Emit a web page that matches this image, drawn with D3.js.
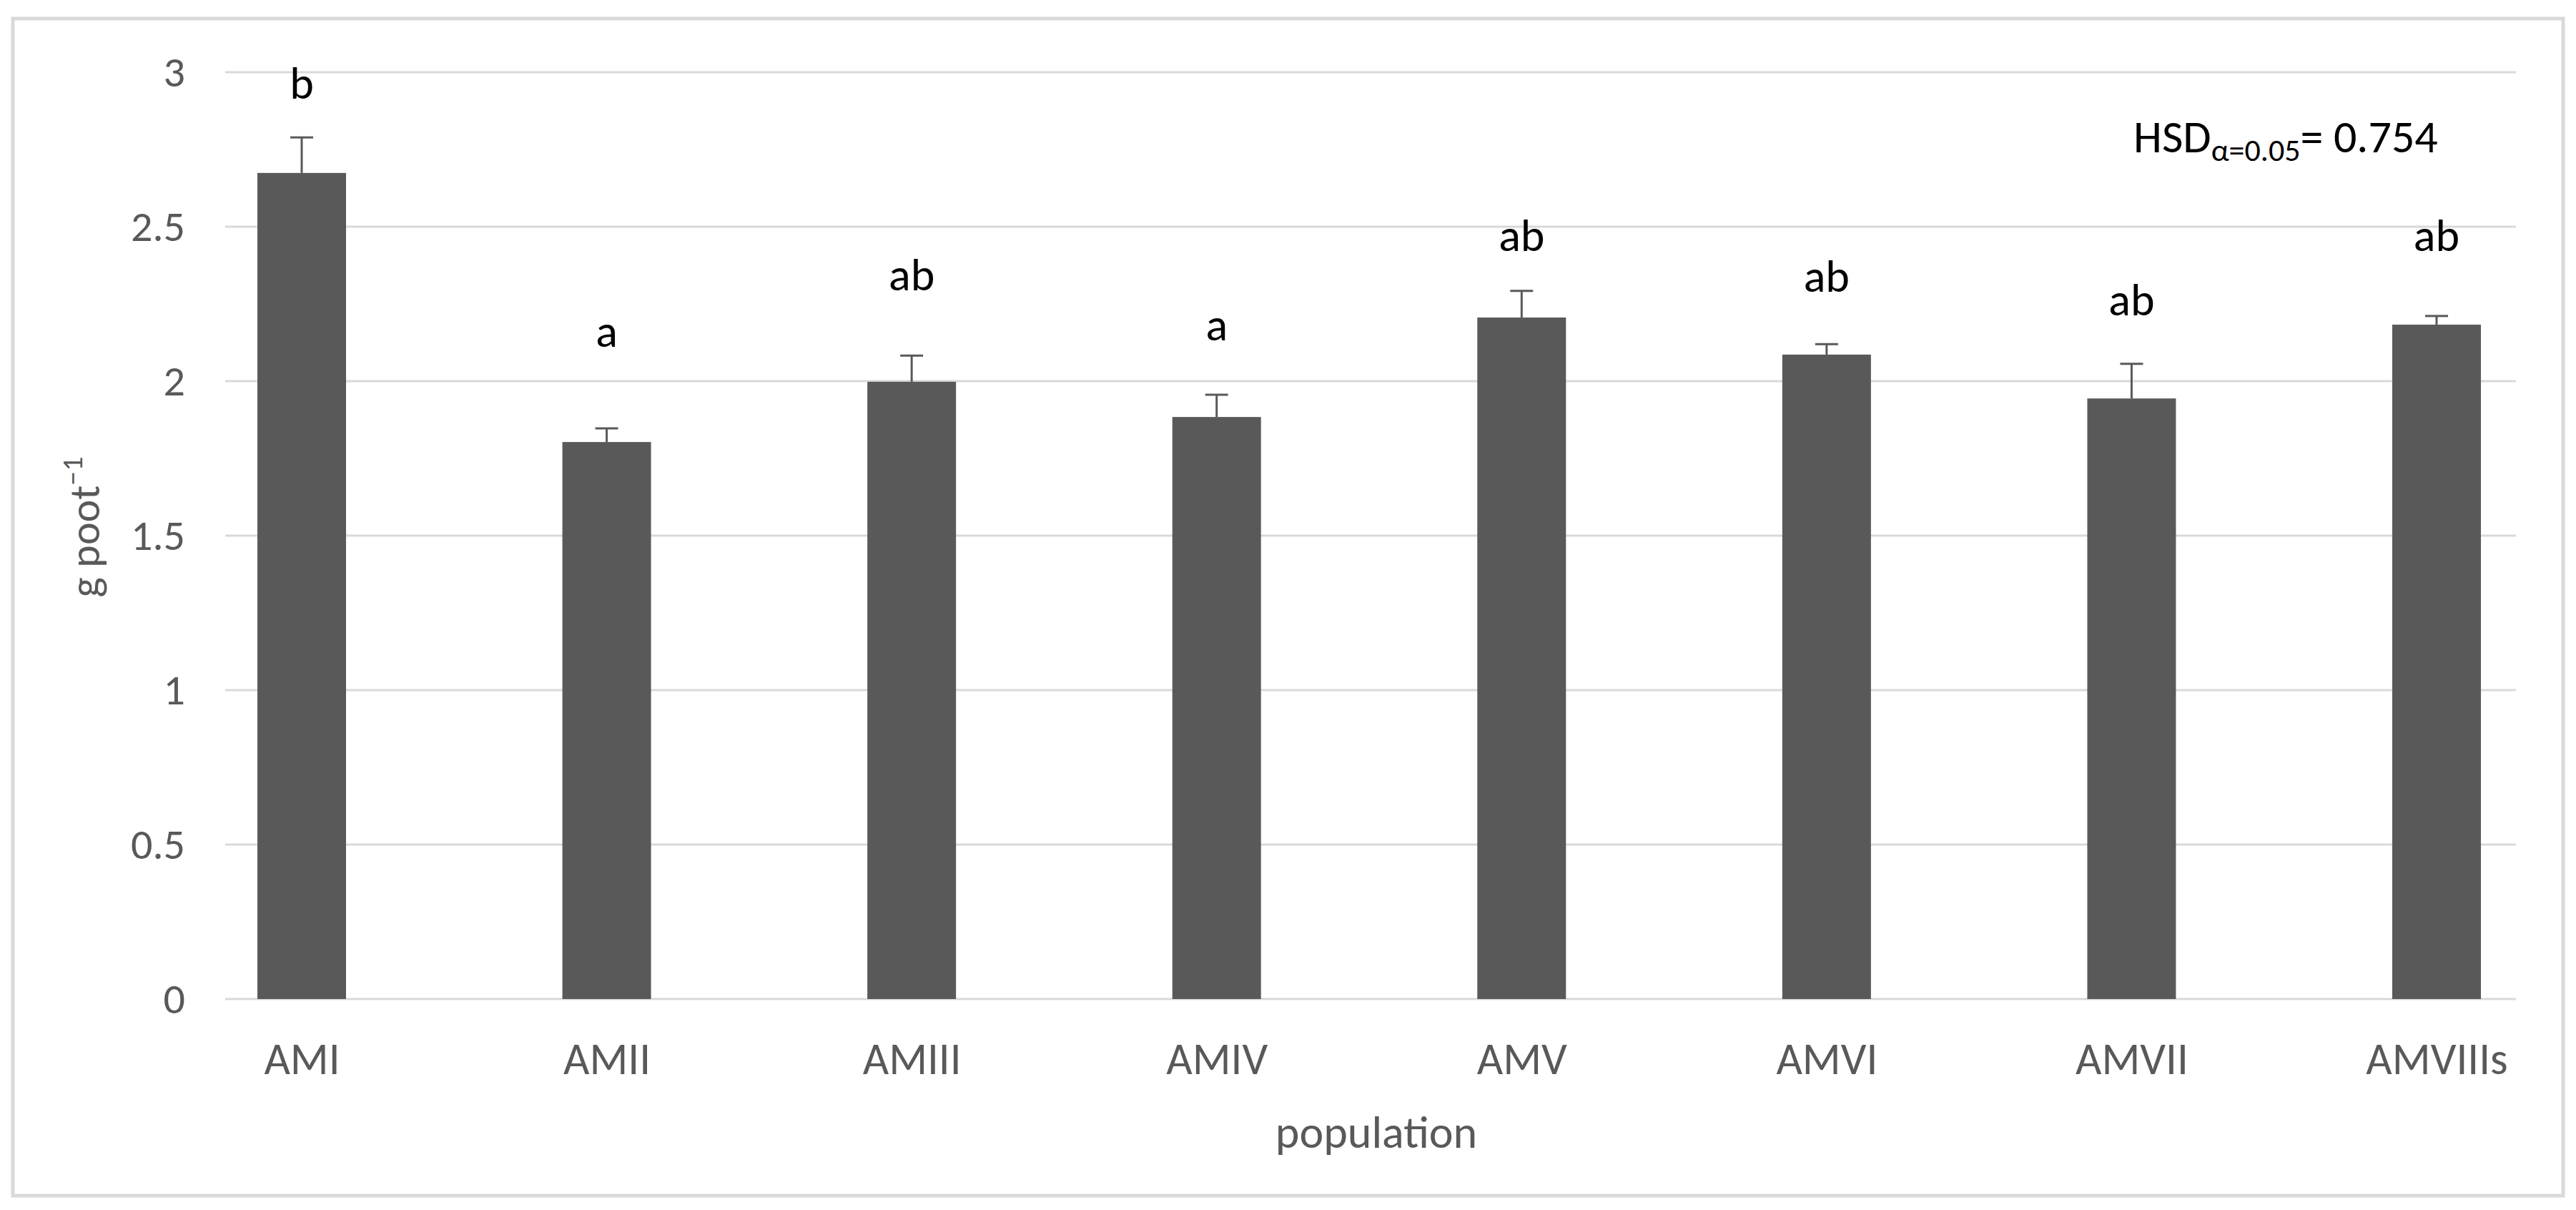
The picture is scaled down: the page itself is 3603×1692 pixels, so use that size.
<!DOCTYPE html>
<html>
<head>
<meta charset="utf-8">
<script src="https://cdn.jsdelivr.net/npm/d3@7"></script>
<style>
  body { margin: 0; background: #fff; }
  text { font-family: Carlito, Calibri, Lato, "Open Sans", sans-serif; }
</style>
</head>
<body>
<div id="chart"></div>
<script>
const CATEGORIES = ["AMI", "AMII", "AMIII", "AMIV", "AMV", "AMVI", "AMVII", "AMVIIIs"];
const VALUES = [2.674, 1.803, 1.998, 1.884, 2.206, 2.086, 1.944, 2.183];
const ERRORS = [0.115, 0.044, 0.085, 0.072, 0.086, 0.034, 0.112, 0.028];
const LETTERS = ["b", "a", "ab", "a", "ab", "ab", "ab", "ab"];
// letter baselines, in axis units
const LETTER_Y = [2.914, 2.111, 2.294, 2.132, 2.421, 2.289, 2.213, 2.421];
const Y_TICKS = [0, 0.5, 1, 1.5, 2, 2.5, 3];

const WIDTH = 3603;
const HEIGHT = 1692;
const PLOT_LEFT = 315;
const PLOT_RIGHT = 3519;
const PLOT_TOP = 101;
const PLOT_BOTTOM = 1397;
const BAR_WIDTH = 124;
const CAP = 32;
const GREY = "#595959";
const GRID = "#d9d9d9";

const svg = d3.select("#chart").append("svg")
    .attr("width", WIDTH)
    .attr("height", HEIGHT);

svg.append("rect")
    .attr("x", 18)
    .attr("y", 26)
    .attr("width", 3567)
    .attr("height", 1646)
    .attr("fill", "#fff")
    .attr("stroke", GRID)
    .attr("stroke-width", 5);

const x = d3.scalePoint()
    .domain(CATEGORIES)
    .range([422, 3408]);

const y = d3.scaleLinear()
    .domain([0, 3])
    .range([PLOT_BOTTOM, PLOT_TOP]);

// gridlines
svg.append("g")
  .selectAll("line")
  .data(Y_TICKS)
  .enter().append("line")
    .attr("x1", PLOT_LEFT)
    .attr("x2", PLOT_RIGHT)
    .attr("y1", d => y(d))
    .attr("y2", d => y(d))
    .attr("stroke", GRID)
    .attr("stroke-width", 3);

// y axis labels
const yAxis = svg.append("g")
    .attr("transform", `translate(${PLOT_LEFT},0)`)
    .call(d3.axisLeft(y).tickValues(Y_TICKS).tickSize(0).tickPadding(56).tickFormat(d => String(d)));
yAxis.select(".domain").remove();
yAxis.selectAll("text")
    .attr("fill", GREY)
    .attr("font-size", 60);

// x axis labels
const xAxis = svg.append("g")
    .attr("transform", `translate(0,${PLOT_BOTTOM})`)
    .call(d3.axisBottom(x).tickSize(0));
xAxis.select(".domain").remove();
xAxis.selectAll("text")
    .attr("y", 105)
    .attr("dy", null)
    .attr("fill", GREY)
    .attr("font-size", 63);

const rows = CATEGORIES.map((c, i) => ({
  cat: c, value: VALUES[i], err: ERRORS[i], letter: LETTERS[i], ly: LETTER_Y[i]
}));

// bars
svg.append("g")
  .selectAll("rect")
  .data(rows)
  .enter().append("rect")
    .attr("x", d => x(d.cat) - BAR_WIDTH / 2)
    .attr("y", d => y(d.value))
    .attr("width", BAR_WIDTH)
    .attr("height", d => y(0) - y(d.value))
    .attr("fill", GREY);

// error bars
const err = svg.append("g")
    .attr("stroke", GREY)
    .attr("stroke-width", 3)
  .selectAll("g")
  .data(rows)
  .enter().append("g");

err.append("line")
    .attr("x1", d => x(d.cat))
    .attr("x2", d => x(d.cat))
    .attr("y1", d => y(d.value))
    .attr("y2", d => y(d.value + d.err));

err.append("line")
    .attr("x1", d => x(d.cat) - CAP / 2)
    .attr("x2", d => x(d.cat) + CAP / 2)
    .attr("y1", d => y(d.value + d.err))
    .attr("y2", d => y(d.value + d.err));

// significance letters
svg.append("g")
  .selectAll("text")
  .data(rows)
  .enter().append("text")
    .attr("x", d => x(d.cat))
    .attr("y", d => y(d.ly))
    .attr("text-anchor", "middle")
    .attr("font-size", 64)
    .attr("fill", "#000")
    .text(d => d.letter);

// HSD note
const hsd = svg.append("text")
    .attr("x", 2984)
    .attr("y", 213)
    .attr("font-size", 64)
    .attr("fill", "#000");
hsd.append("tspan").text("HSD");
hsd.append("tspan").attr("font-size", 44).attr("dy", 12).text("α=0.05");
hsd.append("tspan").attr("dy", -12).text("= 0.754");

// axis titles
svg.append("text")
    .attr("x", 1925)
    .attr("y", 1605)
    .attr("text-anchor", "middle")
    .attr("font-size", 64)
    .attr("fill", GREY)
    .text("population");

const yt = svg.append("text")
    .attr("transform", "translate(139,737) rotate(-90)")
    .attr("text-anchor", "middle")
    .attr("font-size", 60)
    .attr("fill", GREY);
yt.append("tspan").text("g poot");
yt.append("tspan").attr("font-size", 40).attr("dy", -24).text("−1");
</script>
</body>
</html>
